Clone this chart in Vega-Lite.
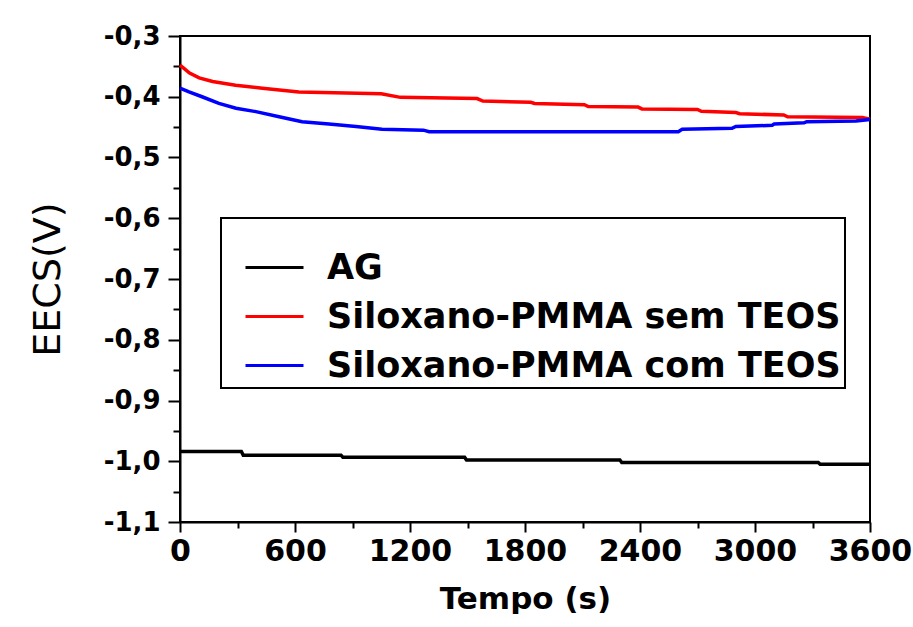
{
  "$schema": "https://vega.github.io/schema/vega-lite/v6.json",
  "width": 690,
  "height": 486,
  "padding": {"left": 29, "top": 23, "right": 0, "bottom": 0},
  "background": "white",
  "config": {
    "view": {"stroke": "black", "strokeWidth": 2},
    "axis": {"grid": false, "domainColor": "black", "domainWidth": 2, "tickColor": "black", "tickWidth": 2, "labelColor": "black", "titleColor": "black", "labelFont": "DejaVu Sans", "titleFont": "DejaVu Sans", "labelFontWeight": "bold"}
  },
  "data": {
    "values": [
      {"t": 0, "v": -0.984, "s": "AG"},
      {"t": 320, "v": -0.984, "s": "AG"},
      {"t": 330, "v": -0.990, "s": "AG"},
      {"t": 840, "v": -0.990, "s": "AG"},
      {"t": 850, "v": -0.9936, "s": "AG"},
      {"t": 1485, "v": -0.9936, "s": "AG"},
      {"t": 1495, "v": -0.998, "s": "AG"},
      {"t": 2295, "v": -0.998, "s": "AG"},
      {"t": 2305, "v": -1.002, "s": "AG"},
      {"t": 3330, "v": -1.002, "s": "AG"},
      {"t": 3340, "v": -1.005, "s": "AG"},
      {"t": 3600, "v": -1.005, "s": "AG"},
      {"t": 0, "v": -0.348, "s": "Siloxano-PMMA sem TEOS"},
      {"t": 50, "v": -0.361, "s": "Siloxano-PMMA sem TEOS"},
      {"t": 100, "v": -0.369, "s": "Siloxano-PMMA sem TEOS"},
      {"t": 170, "v": -0.375, "s": "Siloxano-PMMA sem TEOS"},
      {"t": 290, "v": -0.381, "s": "Siloxano-PMMA sem TEOS"},
      {"t": 430, "v": -0.386, "s": "Siloxano-PMMA sem TEOS"},
      {"t": 620, "v": -0.392, "s": "Siloxano-PMMA sem TEOS"},
      {"t": 1050, "v": -0.395, "s": "Siloxano-PMMA sem TEOS"},
      {"t": 1150, "v": -0.401, "s": "Siloxano-PMMA sem TEOS"},
      {"t": 1550, "v": -0.403, "s": "Siloxano-PMMA sem TEOS"},
      {"t": 1580, "v": -0.407, "s": "Siloxano-PMMA sem TEOS"},
      {"t": 1830, "v": -0.409, "s": "Siloxano-PMMA sem TEOS"},
      {"t": 1850, "v": -0.411, "s": "Siloxano-PMMA sem TEOS"},
      {"t": 2110, "v": -0.413, "s": "Siloxano-PMMA sem TEOS"},
      {"t": 2130, "v": -0.416, "s": "Siloxano-PMMA sem TEOS"},
      {"t": 2390, "v": -0.417, "s": "Siloxano-PMMA sem TEOS"},
      {"t": 2410, "v": -0.420, "s": "Siloxano-PMMA sem TEOS"},
      {"t": 2700, "v": -0.421, "s": "Siloxano-PMMA sem TEOS"},
      {"t": 2720, "v": -0.424, "s": "Siloxano-PMMA sem TEOS"},
      {"t": 2900, "v": -0.426, "s": "Siloxano-PMMA sem TEOS"},
      {"t": 2920, "v": -0.428, "s": "Siloxano-PMMA sem TEOS"},
      {"t": 3150, "v": -0.430, "s": "Siloxano-PMMA sem TEOS"},
      {"t": 3170, "v": -0.433, "s": "Siloxano-PMMA sem TEOS"},
      {"t": 3560, "v": -0.434, "s": "Siloxano-PMMA sem TEOS"},
      {"t": 3600, "v": -0.437, "s": "Siloxano-PMMA sem TEOS"},
      {"t": 0, "v": -0.386, "s": "Siloxano-PMMA com TEOS"},
      {"t": 47, "v": -0.392, "s": "Siloxano-PMMA com TEOS"},
      {"t": 115, "v": -0.400, "s": "Siloxano-PMMA com TEOS"},
      {"t": 203, "v": -0.411, "s": "Siloxano-PMMA com TEOS"},
      {"t": 292, "v": -0.419, "s": "Siloxano-PMMA com TEOS"},
      {"t": 396, "v": -0.4245, "s": "Siloxano-PMMA com TEOS"},
      {"t": 517, "v": -0.433, "s": "Siloxano-PMMA com TEOS"},
      {"t": 637, "v": -0.441, "s": "Siloxano-PMMA com TEOS"},
      {"t": 777, "v": -0.445, "s": "Siloxano-PMMA com TEOS"},
      {"t": 918, "v": -0.449, "s": "Siloxano-PMMA com TEOS"},
      {"t": 1054, "v": -0.4536, "s": "Siloxano-PMMA com TEOS"},
      {"t": 1270, "v": -0.455, "s": "Siloxano-PMMA com TEOS"},
      {"t": 1300, "v": -0.4575, "s": "Siloxano-PMMA com TEOS"},
      {"t": 2600, "v": -0.4575, "s": "Siloxano-PMMA com TEOS"},
      {"t": 2620, "v": -0.4536, "s": "Siloxano-PMMA com TEOS"},
      {"t": 2880, "v": -0.452, "s": "Siloxano-PMMA com TEOS"},
      {"t": 2900, "v": -0.449, "s": "Siloxano-PMMA com TEOS"},
      {"t": 3090, "v": -0.447, "s": "Siloxano-PMMA com TEOS"},
      {"t": 3100, "v": -0.445, "s": "Siloxano-PMMA com TEOS"},
      {"t": 3256, "v": -0.443, "s": "Siloxano-PMMA com TEOS"},
      {"t": 3270, "v": -0.441, "s": "Siloxano-PMMA com TEOS"},
      {"t": 3527, "v": -0.440, "s": "Siloxano-PMMA com TEOS"},
      {"t": 3600, "v": -0.4375, "s": "Siloxano-PMMA com TEOS"}
    ]
  },
  "mark": {"type": "line", "strokeWidth": 3.5},
  "encoding": {
    "x": {
      "field": "t", "type": "quantitative",
      "scale": {"domain": [0, 3600], "nice": false, "zero": false},
      "axis": {
        "title": "Tempo (s)", "titleFontSize": 31, "titleFontWeight": "bold", "titlePadding": 18,
        "values": [0, 300, 600, 900, 1200, 1500, 1800, 2100, 2400, 2700, 3000, 3300, 3600],
        "labelExpr": "datum.value % 600 == 0 ? format(datum.value, 'd') : ''",
        "labelFontSize": 30, "labelPadding": 4, "labelFlush": false, "labelOverlap": false,
        "tickSize": {"condition": {"test": "datum.value % 600 == 0", "value": 10}, "value": 6}
      }
    },
    "y": {
      "field": "v", "type": "quantitative",
      "scale": {"domain": [-1.1, -0.3], "nice": false, "zero": false},
      "axis": {
        "title": "EECS(V)", "titleFontSize": 38, "titleFontWeight": "normal", "titlePadding": 36,
        "values": [-1.1, -1.05, -1.0, -0.95, -0.9, -0.85, -0.8, -0.75, -0.7, -0.65, -0.6, -0.55, -0.5, -0.45, -0.4, -0.35, -0.3],
        "labelExpr": "abs(datum.value * 10 - round(datum.value * 10)) < 0.01 ? '-' + replace(format(abs(datum.value), '.1f'), '.', ',') : ''",
        "labelFontSize": 26, "labelPadding": 8, "labelFlush": false, "labelOverlap": false,
        "tickSize": {"condition": {"test": "abs(datum.value * 10 - round(datum.value * 10)) < 0.01", "value": 12}, "value": 7}
      }
    },
    "color": {
      "field": "s", "type": "nominal",
      "scale": {"domain": ["AG", "Siloxano-PMMA sem TEOS", "Siloxano-PMMA com TEOS"], "range": ["#000000", "#ff0000", "#0000ff"]},
      "legend": {
        "orient": "none", "legendX": 41, "legendY": 182,
        "strokeColor": "black", "fillColor": "white", "padding": 4,
        "symbolType": "stroke", "symbolSize": 3364, "symbolStrokeWidth": 3, "symbolOffset": 19,
        "labelOffset": 22, "labelFont": "DejaVu Sans", "labelFontWeight": "bold", "labelFontSize": 35, "labelColor": "black", "labelLimit": 0,
        "rowPadding": -14, "title": " ", "titleFontSize": 10, "titlePadding": 5,
        "encode": {"legend": {"update": {"strokeWidth": {"value": 2}}}}
      }
    }
  }
}
